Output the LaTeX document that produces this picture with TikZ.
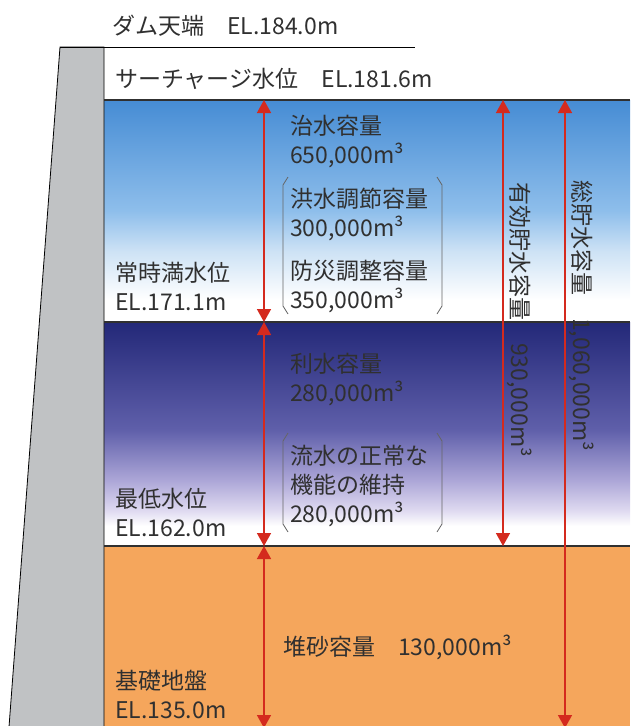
\documentclass[tikz,border=0pt]{standalone}
\usepackage{fontspec}
\setmainfont{Noto Sans CJK JP}
\usepackage{xcolor}
\usepackage{tikz}
\usetikzlibrary{arrows.meta}
\definecolor{damgray}{RGB}{192,194,196}
\definecolor{skyblue}{RGB}{70,140,212}
\definecolor{midblue}{RGB}{142,190,235}
\definecolor{paleblue}{RGB}{205,226,245}
\definecolor{navy}{RGB}{35,40,120}
\definecolor{midnavy}{RGB}{95,95,170}
\definecolor{lavender}{RGB}{172,166,215}
\definecolor{palelav}{RGB}{222,217,240}
\definecolor{sand}{RGB}{245,166,92}
\definecolor{arrowred}{RGB}{212,42,30}
\definecolor{ink}{RGB}{48,48,48}
\pgfdeclareverticalshading{floodfade}{100bp}{color(0bp)=(white); color(25bp)=(white); color(30bp)=(white); color(41bp)=(paleblue); color(50bp)=(midblue); color(75bp)=(skyblue); color(100bp)=(skyblue)}
\pgfdeclareverticalshading{usefade}{100bp}{color(0bp)=(white); color(25bp)=(white); color(29.5bp)=(white); color(33bp)=(palelav); color(39.7bp)=(lavender); color(51bp)=(midnavy); color(75bp)=(navy); color(100bp)=(navy)}

\begin{document}
\begin{tikzpicture}[x=1pt,y=-1pt,
  lbl/.style={anchor=north west, inner sep=0pt, text=ink, align=left, font=\fontsize{23}{29}\selectfont},
  vlbl/.style={anchor=west, inner sep=0pt, text=ink, rotate=-90, font=\fontsize{23}{29}\selectfont},
  lvl/.style={arrowred, line width=1.5pt, {Triangle[width=14pt,length=13pt]}-{Triangle[width=14pt,length=13pt]}},
  brace/.style={black!60, line width=0.8pt}]
\fill[white] (0,0) rectangle (630,726);
\useasboundingbox (0,0) rectangle (630,726);
\shade[shading=floodfade] (104,100) rectangle (630,322);
\shade[shading=usefade] (104,322) rectangle (630,546);
\fill[sand] (104,546) rectangle (630,726);
\draw[fill=damgray, line width=0.8pt] (9,727) -- (60,47) -- (104,47) -- (104,727);
\draw[line width=0.8pt] (60,47) -- (415,47);
\foreach \y in {100,322,546} {
\draw[ink, line width=1.2pt] (104,\y) -- (630,\y);
}
\draw[brace] (288,177) -- (283,185) -- (283,306) -- (288,314);
\draw[brace] (437,177) -- (442,185) -- (442,306) -- (437,314);
\draw[brace] (288,433) -- (283,441) -- (283,524) -- (288,532);
\draw[brace] (437,433) -- (442,441) -- (442,524) -- (437,532);
\coordinate (a1) at (264,100);
\coordinate (a2) at (264,322);
\coordinate (a3) at (264,546);
\coordinate (a4) at (264,728);
\coordinate (b1) at (503,100);
\coordinate (b2) at (503,546);
\coordinate (c1) at (565,100);
\coordinate (c2) at (565,728);
\draw[lvl] (a1) -- (a2);
\draw[lvl] (a2) -- (a3);
\draw[lvl] (a3) -- (a4);
\draw[lvl] (b1) -- (b2);
\draw[lvl] (c1) -- (c2);
\node[lbl] (crest) at (112,15) {ダム天端　EL.184.0m};
\node[lbl] (surcharge) at (115,68) {サーチャージ水位　EL.181.6m};
\node[lbl] (normal) at (115,262) {常時満水位\\EL.171.1m};
\node[lbl] (lowest) at (115,488) {最低水位\\EL.162.0m};
\node[lbl] (base) at (115,670) {基礎地盤\\EL.135.0m};
\node[lbl] (flood) at (290,115) {治水容量\\650,000m³};
\node[lbl] (control) at (290,188) {洪水調節容量\\300,000m³\\[14pt]防災調整容量\\350,000m³};
\node[lbl] (water) at (290,353) {利水容量\\280,000m³};
\node[lbl] (river) at (290,445) {流水の正常な\\機能の維持\\280,000m³};
\node[lbl] (sediment) at (283,635) {堆砂容量　130,000m³};
\node[vlbl] (effective) at (520,182) {有効貯水容量　930,000m³};
\node[vlbl] (total) at (582,180) {総貯水容量　1,060,000m³};
\end{tikzpicture}
\end{document}
